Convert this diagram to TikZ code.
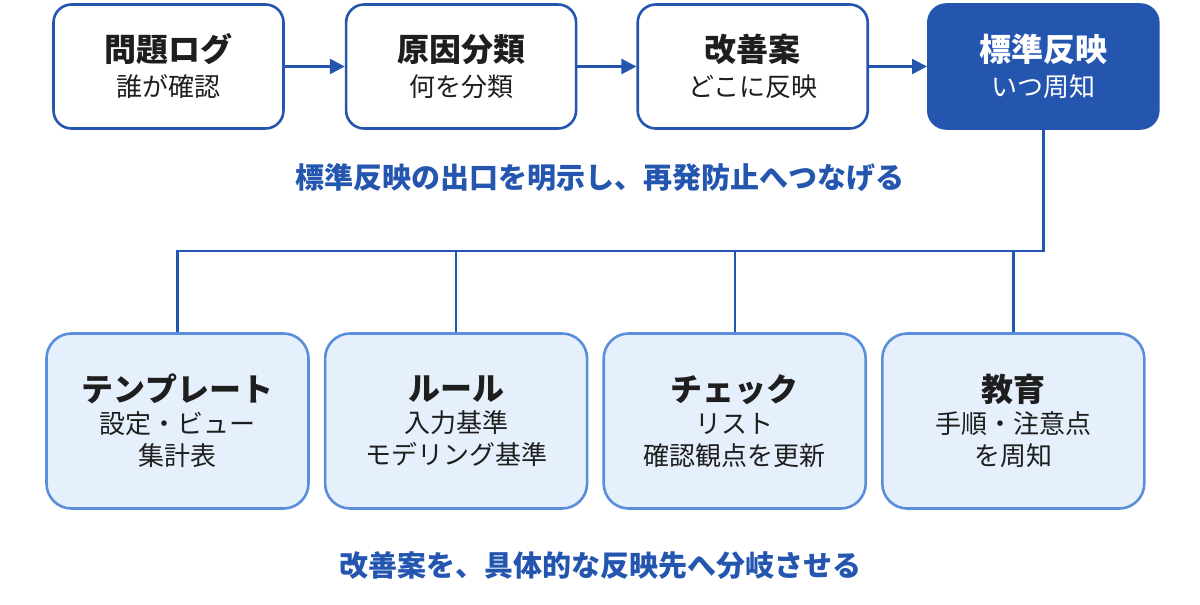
\documentclass[tikz,border=0pt]{standalone}
\usepackage{fontspec}
\setmainfont{Noto Sans CJK JP}
\usepackage{tikz}
\usetikzlibrary{positioning,arrows.meta}
\definecolor{deepblue}{RGB}{36,86,176}
\definecolor{paleblue}{RGB}{230,240,252}
\definecolor{edgeblue}{RGB}{91,142,216}
\definecolor{inkgray}{RGB}{30,30,30}
\newcommand{\hd}[1]{{\bfseries\fontsize{32}{36}\selectfont #1}}
\tikzset{
  stepbox/.style ={draw=deepblue, fill=white, line width=2.6pt, rounded corners=18pt, align=center,
                   text=inkgray, font=\fontsize{26}{35}\selectfont, minimum width=230pt, minimum height=124pt},
  keybox/.style  ={stepbox, fill=deepblue, text=white},
  outbox/.style  ={draw=edgeblue, fill=paleblue, line width=2.6pt, rounded corners=25pt, align=center,
                   text=inkgray, font=\fontsize{26}{32}\selectfont, minimum width=262pt, minimum height=175pt},
  ar/.style      ={-{Triangle[length=15pt,width=15pt]}, draw=deepblue, line width=2.6pt},
  ln/.style      ={draw=deepblue, line width=2.4pt},
  note/.style    ={text=deepblue, font=\bfseries\fontsize{29}{32}\selectfont},
}
\begin{document}
\begin{tikzpicture}[x=1pt,y=-1pt,node distance=14pt and 60pt]
\useasboundingbox (0,0) rectangle (1200,605);
\node[stepbox] (log) at (168.5,66.5) {\hd{問題ログ}\\ 誰が確認};
\node[stepbox,right=of log] (cause) {\hd{原因分類}\\ 何を分類};
\node[stepbox,right=59pt of cause] (fix) {\hd{改善案}\\ どこに反映};
\node[keybox,right=58pt of fix] (std) {\hd{標準反映}\\ いつ周知};
\draw[ar] (log)--(cause); \draw[ar] (cause)--(fix); \draw[ar] (fix)--(std);
\node[note] (msg1) at (600,178) {標準反映の出口を明示し、再発防止へつなげる};
\node[outbox] (tpl) at (177.5,421) {\hd{テンプレート}\\ 設定・ビュー\\ 集計表};
\node[outbox,right=14pt of tpl] (rule) {\hd{ルール}\\ 入力基準\\ モデリング基準};
\node[outbox,right=14pt of rule] (chk) {\hd{チェック}\\ リスト\\ 確認観点を更新};
\node[outbox,right=14pt of chk] (edu) {\hd{教育}\\ 手順・注意点\\ を周知};
\coordinate (jn) at (0,251);
\draw[ln] (std.south) |- (tpl.north |- jn) -- (tpl.north);
\draw[ln] (rule.north |- jn) -- (rule.north); \draw[ln] (chk.north |- jn) -- (chk.north);
\draw[ln] (edu.north |- jn) -- (edu.north);
\node[note] (msg2) at (600,566) {改善案を、具体的な反映先へ分岐させる};
\end{tikzpicture}
\end{document}
